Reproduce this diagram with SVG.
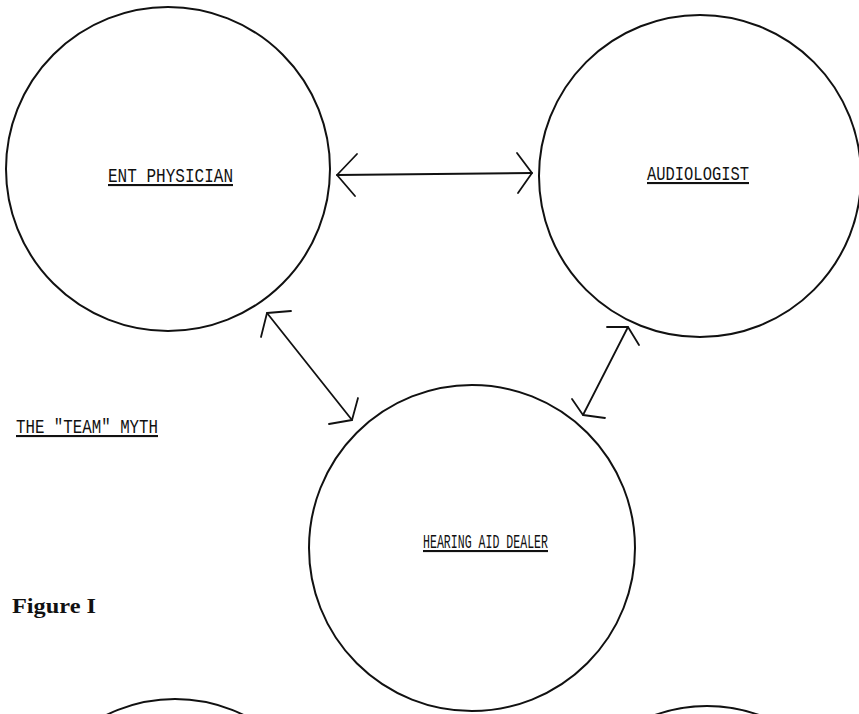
<svg xmlns="http://www.w3.org/2000/svg" width="859" height="714" viewBox="0 0 859 714">
<style>
.node{fill:none;stroke:#111;stroke-width:2}
.lbl{font-family:"Liberation Mono","DejaVu Sans Mono",monospace;font-size:21px;fill:#111;text-decoration:underline}
.conn{fill:none;stroke:#111;stroke-width:1.8;stroke-linecap:round;stroke-linejoin:round}
</style>
<rect width="859" height="714" fill="#fff"/>
<g id="ent">
<circle class="node" cx="168" cy="169" r="162"/>
<text class="lbl" x="108" y="182" textLength="125" lengthAdjust="spacingAndGlyphs">ENT PHYSICIAN</text>
</g>
<g id="audiologist">
<circle class="node" cx="700" cy="176" r="161"/>
<text class="lbl" x="647" y="180" textLength="102" lengthAdjust="spacingAndGlyphs">AUDIOLOGIST</text>
</g>
<g id="dealer">
<circle class="node" cx="472" cy="548" r="163"/>
<text class="lbl" x="423" y="548" textLength="125" lengthAdjust="spacingAndGlyphs">HEARING AID DEALER</text>
</g>
<g id="partial-left">
<circle class="node" cx="175" cy="854" r="155"/>
</g>
<g id="partial-right">
<circle class="node" cx="707" cy="861" r="155"/>
</g>
<g id="connectors">
<path class="conn" d="M337 175 L532 173"/>
<path class="conn" d="M357 154 L337 175 L355 196"/>
<path class="conn" d="M517 153 L532 173 L518 193"/>
<path class="conn" d="M267 313 L352 420"/>
<path class="conn" d="M291 311 L267 313 L261 337"/>
<path class="conn" d="M358 398 L352 420 L329 424"/>
<path class="conn" d="M628 327 L583 415"/>
<path class="conn" d="M607 327 L628 327 L639 345"/>
<path class="conn" d="M572 399 L583 415 L605 418"/>
</g>
<text class="lbl" x="16" y="433" textLength="142" lengthAdjust="spacingAndGlyphs">THE "TEAM" MYTH</text>
<text x="12" y="613" font-family="'Liberation Serif','Times New Roman',serif" font-weight="bold" font-size="20" fill="#111" textLength="84" lengthAdjust="spacingAndGlyphs">Figure I</text>
</svg>
